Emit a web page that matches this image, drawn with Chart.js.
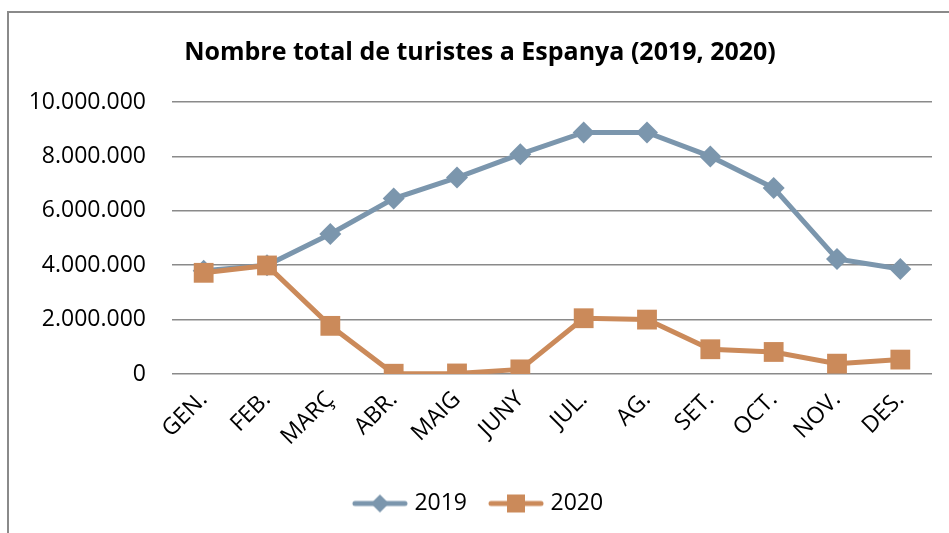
<!DOCTYPE html>
<html>
<head>
<meta charset="utf-8">
<script src="https://cdn.jsdelivr.net/npm/chart.js@4/dist/chart.umd.min.js"></script>
<style>
  html, body { margin: 0; padding: 0; background: #fff; }
  #wrap { width: 949px; height: 533px; position: relative; }
</style>
</head>
<body>
<div id="wrap"><canvas id="chart"></canvas></div>
<script>
// Dades llegides del gràfic
const months = ['GEN.', 'FEB.', 'MARÇ', 'ABR.', 'MAIG', 'JUNY', 'JUL.', 'AG.', 'SET.', 'OCT.', 'NOV.', 'DES.'];
const turistes2019 = [3800000, 4000000, 5150000, 6450000, 7220000, 8080000, 8880000, 8880000, 8000000, 6840000, 4230000, 3860000];
const turistes2020 = [3720000, 3990000, 1770000, 10000, 20000, 170000, 2050000, 2000000, 910000, 810000, 380000, 530000];
const yTicks = [0, 2000000, 4000000, 6000000, 8000000, 10000000];

const blue = '#7b96ad';
const orange = '#cb8a5a';
const FONT = '"Open Sans", sans-serif';

// icona de llegenda: línia amb marcador
function legendIcon(color, shape) {
    const c = document.createElement('canvas');
    c.width = 58;
    c.height = 24;
    const ctx = c.getContext('2d');
    ctx.strokeStyle = color;
    ctx.lineWidth = 5;
    ctx.lineCap = 'round';
    ctx.beginPath();
    ctx.moveTo(4, 12);
    ctx.lineTo(54, 12);
    ctx.stroke();
    ctx.fillStyle = color;
    ctx.beginPath();
    if (shape === 'diamond') {
        ctx.moveTo(29, 3);
        ctx.lineTo(38, 12);
        ctx.lineTo(29, 21);
        ctx.lineTo(20, 12);
        ctx.closePath();
    } else {
        ctx.rect(20, 3, 18, 18);
    }
    ctx.fill();
    return c;
}

const icons = [legendIcon(blue, 'diamond'), legendIcon(orange, 'square')];

// marc del gràfic
const framePlugin = {
    id: 'frame',
    beforeDraw(chart) {
        const ctx = chart.ctx;
        ctx.save();
        ctx.strokeStyle = '#8a8a8a';
        ctx.lineWidth = 2;
        ctx.beginPath();
        ctx.moveTo(8, 533);
        ctx.lineTo(8, 12);
        ctx.lineTo(949, 12);
        ctx.stroke();
        ctx.restore();
    }
};

function formatNum(v) {
    return String(v).replace(/\B(?=(\d{3})+(?!\d))/g, '.');
}

new Chart(document.getElementById('chart'), {
    type: 'line',
    data: {
        labels: months,
        datasets: [
            {
                label: '2019',
                data: turistes2019,
                borderColor: blue,
                backgroundColor: blue,
                borderWidth: 5,
                pointStyle: 'rectRot',
                pointRadius: 11,
                pointBorderWidth: 0,
                tension: 0,
                order: 2
            },
            {
                label: '2020',
                data: turistes2020,
                borderColor: orange,
                backgroundColor: orange,
                borderWidth: 5,
                pointStyle: 'rect',
                pointRadius: 14,
                pointBorderWidth: 0,
                tension: 0,
                order: 1
            }
        ]
    },
    options: {
        responsive: true,
        maintainAspectRatio: false,
        animation: false,
        layout: {
            padding: { left: 28, right: 17, top: 0, bottom: 8 }
        },
        plugins: {
            title: {
                display: true,
                text: 'Nombre total de turistes a Espanya (2019, 2020)',
                color: '#000',
                font: { family: FONT, size: 25, weight: 'bold' },
                padding: { top: 38, bottom: 34 }
            },
            legend: {
                position: 'bottom',
                labels: {
                    color: '#000',
                    font: { family: FONT, size: 23 },
                    usePointStyle: true,
                    pointStyleWidth: 46,
                    padding: 26,
                    generateLabels(chart) {
                        return chart.data.datasets.map((ds, i) => ({
                            text: ds.label,
                            pointStyle: icons[i],
                            fillStyle: ds.backgroundColor,
                            strokeStyle: ds.borderColor,
                            lineWidth: 0,
                            hidden: false,
                            datasetIndex: i
                        }));
                    }
                }
            },
            tooltip: { enabled: false }
        },
        scales: {
            x: {
                offset: true,
                grid: { display: false },
                border: { display: false },
                ticks: {
                    color: '#000',
                    font: { family: FONT, size: 23 },
                    minRotation: 45,
                    maxRotation: 45,
                    padding: 4
                },
                afterFit(scale) {
                    scale.height = 92;
                }
            },
            y: {
                min: 0,
                max: 10000000,
                afterBuildTicks(scale) {
                    scale.ticks = yTicks.map((v) => ({ value: v }));
                },
                grid: {
                    color: '#8a8a8a',
                    lineWidth: 1.5,
                    drawTicks: false
                },
                border: { display: false },
                ticks: {
                    color: '#000',
                    font: { family: FONT, size: 23 },
                    padding: 26,
                    callback: (v) => formatNum(v)
                },
                afterFit(scale) {
                    scale.width = 144;
                }
            }
        }
    },
    plugins: [framePlugin]
});
</script>
</body>
</html>
